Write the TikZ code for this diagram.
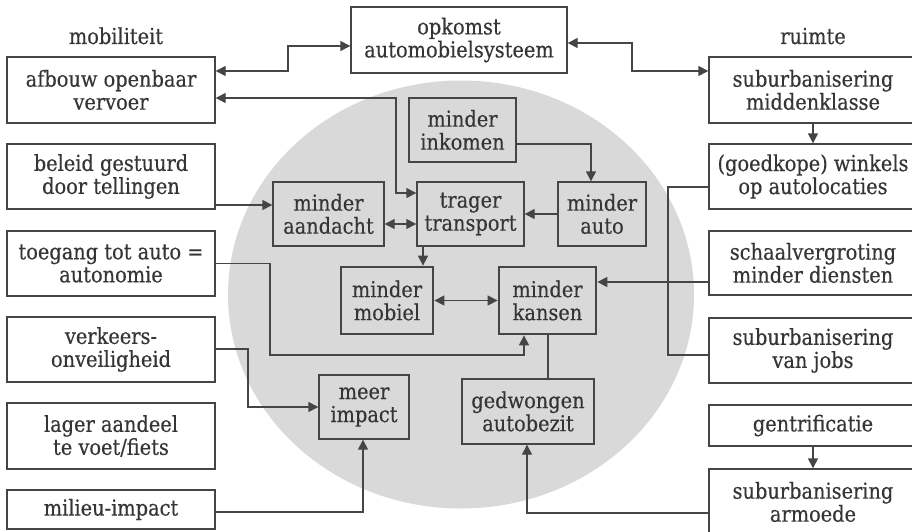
\documentclass[tikz,border=0pt]{standalone}
\usepackage{fontspec}
\setmainfont{DejaVu Serif}[FakeStretch=0.88,FakeBold=0.35]
\usetikzlibrary{arrows.meta}
\definecolor{ink}{HTML}{353535}
\definecolor{lin}{HTML}{454545}
\definecolor{blob}{HTML}{D9D9D9}
\begin{document}
\begin{tikzpicture}[x=1pt,y=-1pt,
  box/.style={draw=lin, line width=1.4pt, inner sep=0pt, align=center, text=ink,
    font=\fontsize{22}{23}\selectfont},
  heavy/.style={box, line width=2.8pt},
  conn/.style={draw=lin, line width=1.4pt},
  arr/.style={conn, -{Triangle[length=10pt,width=10pt]}},
  darr/.style={conn, {Triangle[length=10pt,width=10pt]}-{Triangle[length=10pt,width=10pt]}},
  lbl/.style={text=ink, font=\fontsize{22}{23}\selectfont, anchor=base, inner sep=0pt}]
\useasboundingbox (0,0) rectangle (912,532);
\fill[white] (0,0) rectangle (912,532);
\fill[blob] (461,294.5) ellipse [x radius=233pt, y radius=214pt];

% labels
\node[lbl] (lmob) at (116,44) {mobiliteit};
\node[lbl] (lruim) at (813,44) {ruimte};

% top
\node[box, minimum width=216, minimum height=66] (opkomst) at (459,40) {opkomst\\automobielsysteem};

% left column
\node[box, minimum width=208, minimum height=66] (afbouw) at (111,90) {afbouw openbaar\\vervoer};
\node[box, minimum width=208, minimum height=65] (beleid) at (111,176.5) {beleid gestuurd\\door tellingen};
\node[box, minimum width=208, minimum height=65] (toegang) at (111,263.5) {toegang tot auto =\\autonomie};
\node[box, minimum width=208, minimum height=65] (verkeers) at (111,349.5) {verkeers-\\onveiligheid};
\node[box, minimum width=208, minimum height=66] (lager) at (111,436) {lager aandeel\\te voet/fiets};
\node[box, minimum width=208, minimum height=39] (milieu) at (111,509.5) {milieu-impact};

% right column
\node[box, minimum width=208, minimum height=66] (midden) at (813,90) {suburbanisering\\middenklasse};
\node[box, minimum width=208, minimum height=65] (winkels) at (813,176.5) {(goedkope) winkels\\op autolocaties};
\node[box, minimum width=208, minimum height=64] (schaal) at (813,263) {schaalvergroting\\minder diensten};
\node[box, minimum width=208, minimum height=65] (jobs) at (813,350.5) {suburbanisering\\van jobs};
\node[box, minimum width=208, minimum height=41] (gentr) at (813,425.5) {gentrificatie};
\node[box, minimum width=208, minimum height=66] (armoede) at (813,502) {suburbanisering\\armoede};

% centre
\node[box, minimum width=107, minimum height=64] (inkomen) at (462.5,130) {minder\\inkomen};
\node[box, minimum width=111, minimum height=64] (aandacht) at (328.5,214) {minder\\aandacht};
\node[box, minimum width=107, minimum height=64] (trager) at (470.5,214) {trager\\transport};
\node[box, minimum width=88, minimum height=64] (auto) at (602,214) {minder\\auto};
\node[heavy, minimum width=92, minimum height=67] (mobiel) at (387,300.5) {minder\\mobiel};
\node[heavy, minimum width=97, minimum height=67] (kansen) at (547.5,300.5) {minder\\kansen};
\node[box, minimum width=90, minimum height=64] (meer) at (364,407) {meer\\impact};
\node[box, minimum width=132, minimum height=65] (gedw) at (528,411.5) {gedwongen\\autobezit};

% connectors
\draw[darr] (afbouw.east |- 0,71) -- (288,71) -- (288,46) -- (opkomst.west |- 0,46);
\draw[darr] (afbouw.east |- 0,98) -- (396,98) -- (396,193) -- (trager.west |- 0,193);
\draw[darr] (opkomst.east |- 0,43) -- (632,43) -- (632,71) -- (midden.west |- 0,71);
\draw[arr] (midden.south) -- (winkels.north);
\draw[arr] (beleid.east |- 0,205) -- (aandacht.west |- 0,205);
\draw[darr] (aandacht.east |- 0,224) -- (trager.west |- 0,224);
\draw[arr] (auto.west) -- (trager.east);
\draw[arr] (inkomen.east |- 0,144) -- (591,144) -- (auto.north -| 591,0);
\draw[arr] (trager.south -| 423,0) -- (mobiel.north -| 423,0);
\draw[darr] (mobiel.east) -- (kansen.west);
\draw[arr] (schaal.west |- 0,282) -- (kansen.east |- 0,282);
\draw[conn] (winkels.west |- 0,187) -- (668,187) -- (668,355) -- (jobs.west |- 0,355);
\draw[arr] (toegang.east) -- (270,263.5) -- (270,355) -- (524,355) -- (kansen.south -| 524,0);
\draw[arr] (verkeers.east |- 0,349) -- (248,349) -- (248,407) -- (meer.west);
\draw[arr] (milieu.east |- 0,512) -- (363,512) -- (meer.south -| 363,0);
\draw[conn] (kansen.south -| 548,0) -- (gedw.north -| 548,0);
\draw[arr] (armoede.west |- 0,513) -- (527,513) -- (gedw.south -| 527,0);
\draw[arr] (gentr.south) -- (armoede.north);
\end{tikzpicture}
\end{document}
